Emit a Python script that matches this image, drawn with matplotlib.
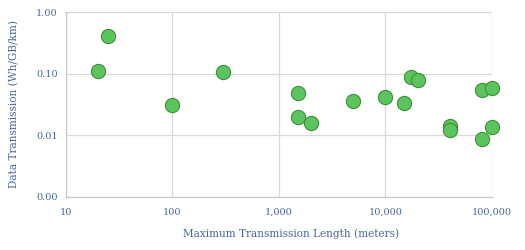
import matplotlib
matplotlib.use("Agg")
import matplotlib.pyplot as plt
from matplotlib.ticker import FixedLocator, FixedFormatter, NullLocator

# transmission length (m) vs data transmission energy (Wh/GB/km)
length_m = [20, 25, 300, 100, 1500, 1500, 2000, 5000, 10000, 15000, 17500, 20000,
            80000, 100000, 40000, 40000, 80000, 100000]
energy = [0.11, 0.41, 0.108, 0.031, 0.049, 0.020, 0.0157, 0.0357, 0.042, 0.033, 0.088, 0.080,
          0.054, 0.058, 0.014, 0.0124, 0.0086, 0.0137]

x_ticks = [10, 100, 1000, 10000, 100000]
x_labels = ["10", "100", "1,000", "10,000", "100,000"]
y_ticks = [0.001, 0.01, 0.1, 1.0]
y_labels = ["0.00", "0.01", "0.10", "1.00"]

text_col = "#4a66a6"
grid_col = "#d9d9d9"

plt.rcParams['font.family'] = ['DejaVu Serif']

fig = plt.figure(figsize=(5.25, 2.5), dpi=100)
ax = fig.add_axes([0.1257, 0.212, 0.8114, 0.74])

ax.scatter(length_m, energy, s=105, color="#5cc45c", edgecolor="#3d8f3d",
           linewidth=0.8, zorder=3, clip_on=False)

ax.set_xscale("log")
ax.set_yscale("log")
ax.set_xlim(10, 100000)
ax.set_ylim(0.001, 1.0)

ax.xaxis.set_major_locator(FixedLocator(x_ticks))
ax.xaxis.set_major_formatter(FixedFormatter(x_labels))
ax.xaxis.set_minor_locator(NullLocator())
ax.yaxis.set_major_locator(FixedLocator(y_ticks))
ax.yaxis.set_major_formatter(FixedFormatter(y_labels))
ax.yaxis.set_minor_locator(NullLocator())

ax.grid(True, color=grid_col, linewidth=0.9, zorder=0)
for side in ["top", "right"]:
    ax.spines[side].set_visible(False)
for side in ["left", "bottom"]:
    ax.spines[side].set_color("#c8c8c8")
    ax.spines[side].set_linewidth(0.9)

ax.tick_params(length=0, labelsize=7, labelcolor=text_col, pad=8)
ax.tick_params(axis="y", pad=6)

ax.set_xlabel("Maximum Transmission Length (meters)", fontsize=7.6, color=text_col)
ax.xaxis.set_label_coords(0.529, -0.17)
ax.set_ylabel("Data Transmission (Wh/GB/km)", fontsize=7.6, color=text_col, labelpad=12)

fig.savefig("out.png", dpi=100)
